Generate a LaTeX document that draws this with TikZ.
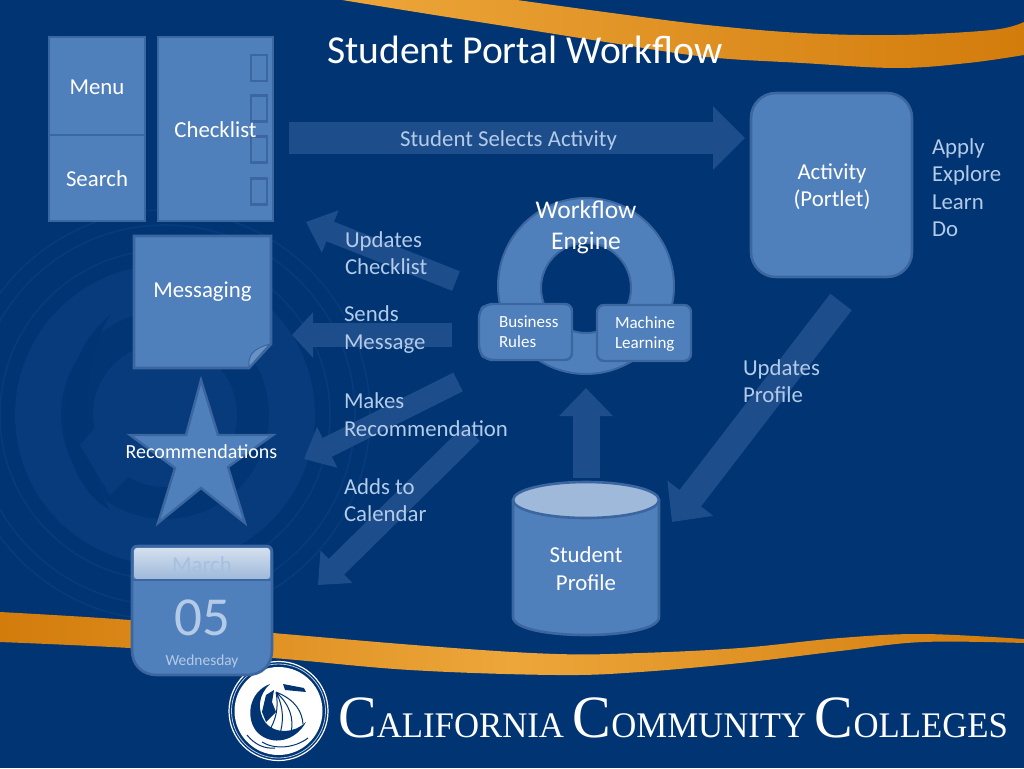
\documentclass[tikz,border=0pt]{standalone}
\usepackage{fontspec}
\setmainfont{Carlito}
\newfontfamily\logofont[FakeStretch=0.965]{Liberation Serif}
\usetikzlibrary{arrows.meta,shapes.geometric}
\definecolor{bgblue}{HTML}{003473}
\definecolor{markblue}{HTML}{073B7B}
\definecolor{boxfill}{HTML}{5080BB}
\definecolor{boxedge}{HTML}{3B669F}
\definecolor{flowblue}{HTML}{1E4D8C}
\definecolor{softtext}{HTML}{B4CBE8}
\definecolor{orangedeep}{HTML}{D27C0C}
\definecolor{orangelight}{HTML}{EDA63A}
\newcommand{\fsz}[2]{\fontsize{#1}{#2}\selectfont}
\tikzset{
  x=1pt,y=-1pt,
  box/.style={draw=boxedge,fill=boxfill,line width=2.6pt,inner sep=0pt,outer sep=0pt},
  label/.style={text=white,inner sep=0pt,outer sep=0pt,font=\fsz{22.8}{27.4},align=center},
  soft/.style={text=softtext,inner sep=0pt,outer sep=0pt,font=\fsz{22.8}{27.4},align=left,anchor=west},
  flow/.style={draw=flowblue,line width=#1},
  wm/.style={draw=markblue,line width=1.6pt},
}
\begin{document}
\begin{tikzpicture}
\useasboundingbox (0,0) rectangle (1024,768);
\fill[bgblue] (0,0) rectangle (1024,768);

% watermark seal
\fill[markblue] (165,415) circle[radius=150];
\fill[bgblue!90!markblue] (165,415) circle[radius=104];
\fill[markblue] (165,415) circle[radius=72];
\fill[bgblue] (110,315) .. controls (50,365) and (50,475) .. (110,510)
  .. controls (80,465) and (78,365) .. (110,315) -- cycle;
\fill[markblue] (80,445) -- (115,405) -- (130,475) -- (110,495) -- cycle;
\draw[wm] (165,415) circle[radius=165];
\draw[wm] (165,415) circle[radius=190];
\draw[wm] (165,415) circle[radius=205];

% swooshes
\path[left color=orangelight,right color=orangedeep,draw=none] plot[smooth,tension=0.6] coordinates {(342,0) (422,13) (517,28) (612,43) (707,57) (802,63) (897,68) (968,63) (1024,55)}
  -- plot[smooth,tension=0.6] coordinates {(1024,22) (992,30) (897,35) (802,33) (707,25) (612,13) (517,0)} -- cycle;
\path[left color=orangedeep,right color=orangedeep,middle color=orangelight,draw=none] plot[smooth,tension=0.6] coordinates {(0,612) (130,620) (273,633) (440,647) (557,654) (640,653) (740,648) (840,638) (923,634) (1024,639)}
  -- plot[smooth,tension=0.6] coordinates {(1024,643) (923,642) (840,651) (740,663) (640,672) (557,675) (410,670) (273,658) (130,648) (0,642)} -- cycle;

% logo
\draw[white,line width=1.2pt,fill=bgblue] (278.5,711) circle[radius=49.5];
\draw[softtext,line width=0.8pt] (278.5,711) circle[radius=47];
\fill[white] (278.5,711) circle[radius=44];
\fill[bgblue] (270,684) .. controls (248,692) and (245,720) .. (258,733)
  .. controls (272,746) and (295,742) .. (306,722)
  .. controls (295,733) and (275,735) .. (265,722)
  .. controls (257,710) and (258,695) .. (270,684) -- cycle;
\fill[bgblue] (266,695) -- (274,690) -- (272,702) -- (276,712) -- (266,722) -- (262,712) -- cycle;
\fill[bgblue] (283,684) -- (304,688) -- (306,692) -- (285,690) -- cycle;
\draw[bgblue,line width=1pt] (276,692) .. controls (296,700) and (302,712) .. (303,724)
  (276,692) .. controls (290,705) and (294,718) .. (291,733)
  (276,692) .. controls (284,708) and (284,722) .. (279,737)
  (276,692) .. controls (279,708) and (276,720) .. (268,733)
  (247,735) .. controls (255,745) and (265,749) .. (275,748)
  (262,742) .. controls (275,750) and (295,748) .. (308,738);

% flows (block arrows)
\coordinate (selA) at (289,138);   \coordinate (selB) at (745,138);
\coordinate (chkA) at (456,281);   \coordinate (chkB) at (306,222);
\coordinate (msgA) at (452,335);   \coordinate (msgB) at (292,335);
\coordinate (recA) at (458,382);   \coordinate (recB) at (304,459);
\coordinate (calA) at (472,433);   \coordinate (calB) at (318,585);
\coordinate (profA) at (841,302);  \coordinate (profB) at (672,522);
\coordinate (engA) at (586,478);   \coordinate (engB) at (586,388);
\draw[flow=32pt,-{Triangle[length=32pt,width=62pt]}] (selA) -- (selB);
\draw[flow=21pt,-{Triangle[length=26pt,width=44pt]}] (chkA) -- (chkB);
\draw[flow=24pt,-{Triangle[length=21pt,width=44pt]}] (msgA) -- (msgB);
\draw[flow=21pt,-{Triangle[length=26pt,width=44pt]}] (recA) -- (recB);
\draw[flow=22pt,-{Triangle[length=26pt,width=44pt]}] (calA) -- (calB);
\draw[flow=27pt,-{Triangle[length=30pt,width=56pt]}] (profA) -- (profB);
\draw[flow=27pt,-{Triangle[length=28pt,width=52pt]}] (engA) -- (engB);

% menu column
\node[box,minimum width=96pt,minimum height=98pt] (menu) at (97,86) {};
\node[box,minimum width=96pt,minimum height=86pt] (search) at (97,178) {};
\node[box,minimum width=115pt,minimum height=184pt] (checklist) at (215.5,129) {};
\foreach \n/\yy in {a/68,b/108.5,c/149.5,d/191.5}
  \node[draw=boxedge,line width=2.6pt,minimum width=16pt,minimum height=26pt,inner sep=0pt] (chk\n) at (259,\yy) {};
\node[label] (menutext) at (97,87) {Menu};
\node[label] (searchtext) at (97,179) {Search};
\node[label] (checktext) at (215.5,129.5) {Checklist};

% messaging note
\draw[boxedge,fill=boxfill,line width=2.6pt] (134,236) -- (271,236) -- (271,344) -- (249,368) -- (134,368) -- cycle;
\draw[boxedge,fill=boxfill!85!white,line width=1pt] (249,367) .. controls (248,356) and (252,349) .. (270,344) .. controls (262,352) and (256,360) .. (249,367) -- cycle;
\node[label] (messaging) at (202.5,292) {Messaging};

% star
\draw[boxedge,fill=boxfill,line width=2.4pt,line join=miter,miter limit=10] (201,380) -- (218,435) -- (273,435) -- (228,467) -- (245,523) -- (201,488) -- (158,523) -- (175,468) -- (130,435) -- (186,435) -- cycle;
\node[label,font=\fsz{20}{24}] (recs) at (201.5,452) {Recommendations};

% calendar
\draw[boxedge,fill=boxfill,line width=2.6pt] (138,546) -- (266,546) .. controls (270,546) and (272,548) .. (272,552) -- (272,650) .. controls (272,665) and (262,675) .. (247,675) -- (157,675) .. controls (142,675) and (132,665) .. (132,650) -- (132,552) .. controls (132,548) and (134,546) .. (138,546) -- cycle;
\shade[top color=white!75!boxfill,bottom color=boxfill!55!white,rounded corners=3pt] (134,548) rectangle (270,579);
\draw[boxedge,line width=1.5pt] (133,580) -- (271,580);
\node[inner sep=0pt,text=softtext!85!boxfill,font=\fsz{22.8}{26}] (march) at (202,565) {March};
\node[inner sep=0pt,text=softtext,font=\fsz{55}{58}] (day) at (202,618) {05};
\node[inner sep=0pt,text=softtext,font=\fsz{15.4}{18}] (wday) at (202,661) {Wednesday};

% workflow engine
\draw[boxedge,fill=boxfill,line width=2pt,even odd rule] (586,286) circle[radius=88] (586,288) circle[radius=45];
\node[label,font=\fsz{25.5}{31}] (engine) at (586,227.5) {Workflow\\Engine};
\draw[boxedge,fill=boxfill,line width=2.4pt,rounded corners=7pt] (572,304) -- (486,304) -- (479,311) -- (479,352) -- (486,360) -- (572,360) -- cycle;
\node[label,font=\fsz{17}{20.5},align=left,anchor=west] (rules) at (499,331.5) {Business\\Rules};
\draw[boxedge,fill=boxfill,line width=2.4pt,rounded corners=7pt] (597,305) -- (691,305) -- (691,361) -- (597,361) -- cycle;
\node[label,font=\fsz{17}{20.5},align=left,anchor=west] (learn) at (615,334) {Machine\\Learning};

% activity
\node[box,rounded corners=25pt,minimum width=161pt,minimum height=184pt] (activity) at (831.5,185) {};
\node[label] (activitytext) at (832,186.5) {Activity\\(Portlet)};

% student profile
\draw[boxedge,fill=boxfill,line width=2.6pt] (513,500) -- (513,617) .. controls (513,641) and (659,641) .. (659,617) -- (659,500);
\draw[boxedge,fill=boxfill!55!white,line width=2.6pt] (586,500) ellipse[x radius=73,y radius=18];
\node[label] (profile) at (586,568.5) {Student\\Profile};

% title and captions
\node[label,font=\fsz{39.6}{44},anchor=west] (title) at (327,50) {Student Portal Workflow};
\node[soft,anchor=center] (t1) at (508.5,140) {Student Selects Activity};
\node[soft] (t2) at (932,187.5) {Apply\\Explore\\Learn\\Do};
\node[soft] (t3) at (345,253) {Updates\\Checklist};
\node[soft] (t4) at (344,329.5) {Sends\\Message};
\node[soft] (t5) at (344,414.5) {Makes\\Recommendation};
\node[soft] (t6) at (344,500) {Adds to\\Calendar};
\node[soft] (t7) at (743,381) {Updates\\Profile};

% wordmark
\node[inner sep=0pt,text=white,anchor=base west] (college) at (338,737) {\logofont\fsz{60}{60}C\fsz{36}{36}ALIFORNIA \fsz{60}{60}C\fsz{36}{36}OMMUNITY \fsz{60}{60}C\fsz{36}{36}OLLEGES};
\end{tikzpicture}
\end{document}
